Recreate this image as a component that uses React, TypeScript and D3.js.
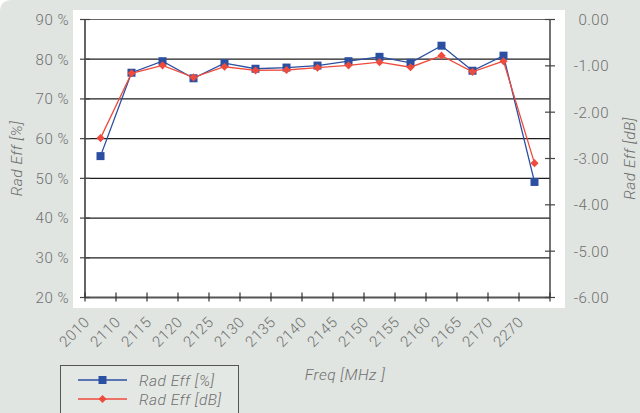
import React from 'react'
import * as d3 from 'd3'

const freqs = ['2010', '2110', '2115', '2120', '2125', '2130', '2135', '2140', '2145', '2150', '2155', '2160', '2165', '2170', '2270']
const effPct = [55.6, 76.6, 79.5, 75.2, 79.0, 77.6, 77.9, 78.4, 79.5, 80.6, 79.1, 83.4, 77.1, 80.9, 49.1]
const effDb = [-2.56, -1.16, -0.99, -1.25, -1.02, -1.10, -1.09, -1.04, -0.99, -0.92, -1.03, -0.78, -1.13, -0.90, -3.10]
const pctTicks = [20, 30, 40, 50, 60, 70, 80, 90]
const dbTicks = [0, -1, -2, -3, -4, -5, -6]

const W = 640
const H = 413
const left = 85
const right = 550
const top = 19.5
const bottom = 297.5

const font = 'Roboto, "Open Sans", sans-serif'
const textColor = '#6f6f6f'
const blue = '#2b4fa1'
const red = '#ef4b3c'

const App = () => {
    const x = d3.scaleBand().domain(freqs).range([left, right])
    const yL = d3.scaleLinear().domain([20, 90]).range([bottom, top])
    const yR = d3.scaleLinear().domain([-6, 0]).range([bottom, top])
    const cx = (f: string) => (x(f) ?? 0) + x.bandwidth() / 2

    const pctLine = d3.line<number>().x((_, i) => cx(freqs[i])).y(d => yL(d))
    const dbLine = d3.line<number>().x((_, i) => cx(freqs[i])).y(d => yR(d))
    const diamond = d3.symbol().type(d3.symbolDiamond2).size(42)()

    const tickText = { fontSize: 15, fontWeight: 300, fill: textColor, letterSpacing: 0.5 }
    const titleText = { fontSize: 15.5, fontWeight: 300, fill: textColor, fontStyle: 'italic', letterSpacing: 0.5 }

    return (
        <svg width={W} height={H} style={{ position: 'absolute', left: 0, top: 0 }} fontFamily={font}>
            <path d={`M0,12 Q0,0 12,0 H${W} V${H} H0 Z`} fill="#e0e5e1" />
            <rect x={73} y={10} width={492} height={298} fill="#ffffff" />

            {pctTicks.filter(t => t > 20 && t < 90).map(t => (
                <line key={t} x1={left} x2={right} y1={yL(t)} y2={yL(t)} stroke="#1e1e1e" strokeWidth={1.2} />
            ))}
            <line x1={left} x2={right} y1={yL(90)} y2={yL(90)} stroke="#666" strokeWidth={1.2} />

            {/* axes */}
            <line x1={left} x2={left} y1={top} y2={bottom} stroke="#555" strokeWidth={1.8} />
            <line x1={right} x2={right} y1={top} y2={bottom} stroke="#444" strokeWidth={1.5} />
            <line x1={left} x2={right} y1={bottom} y2={bottom} stroke="#555" strokeWidth={1.8} />
            {pctTicks.map(t => (
                <line key={t} x1={left - 5} x2={left + 5} y1={yL(t)} y2={yL(t)} stroke="#444" strokeWidth={1.2} />
            ))}
            {dbTicks.map(t => (
                <line key={t} x1={right - 5} x2={right + 5} y1={yR(t)} y2={yR(t)} stroke="#444" strokeWidth={1.2} />
            ))}
            {freqs.map(f => (
                <line key={f} x1={x(f)} x2={x(f)} y1={bottom - 5} y2={bottom + 4} stroke="#333" strokeWidth={1.2} />
            ))}
            <line x1={right} x2={right} y1={bottom - 5} y2={bottom + 4} stroke="#333" strokeWidth={1.2} />

            {/* tick labels */}
            {pctTicks.map(t => (
                <text key={t} x={69} y={yL(t)} dy="0.36em" textAnchor="end" {...tickText}>{`${t} %`}</text>
            ))}
            {dbTicks.map(t => (
                <text key={t} x={609} y={yR(t)} dy="0.36em" textAnchor="end" {...tickText}>{t.toFixed(2)}</text>
            ))}
            {freqs.map(f => (
                <text key={f} transform={`translate(${cx(f) - 10},${323}) rotate(-45)`} textAnchor="end" {...tickText}>{f}</text>
            ))}

            {/* axis titles */}
            <text transform={`translate(22,${(top + bottom) / 2}) rotate(-90)`} textAnchor="middle" {...titleText}>Rad Eff [%]</text>
            <text transform={`translate(635,${(top + bottom) / 2}) rotate(-90)`} textAnchor="middle" {...titleText}>Rad Eff [dB]</text>
            <text x={345} y={380} textAnchor="middle" {...titleText}>Freq [MHz ]</text>

            {/* series */}
            <path d={pctLine(effPct) ?? ''} fill="none" stroke={blue} strokeWidth={1.3} />
            {effPct.map((v, i) => (
                <rect key={i} x={cx(freqs[i]) - 4} y={yL(v) - 4} width={8} height={8} fill={blue} />
            ))}
            <path d={dbLine(effDb) ?? ''} fill="none" stroke={red} strokeWidth={1.3} />
            {effDb.map((v, i) => (
                <path key={i} d={diamond ?? ''} transform={`translate(${cx(freqs[i])},${yR(v)})`} fill={red} />
            ))}

            {/* legend */}
            <rect x={60.5} y={365.5} width={178} height={60} fill="#e4e8e5" stroke="#555" strokeWidth={1} />
            <line x1={78} x2={127} y1={380} y2={380} stroke={blue} strokeWidth={1.3} />
            <rect x={98.5} y={376} width={8} height={8} fill={blue} />
            <text x={139} y={380} dy="0.36em" {...titleText}>Rad Eff [%]</text>
            <line x1={78} x2={127} y1={399} y2={399} stroke={red} strokeWidth={1.3} />
            <path d={diamond ?? ''} transform={`translate(102.5,399)`} fill={red} />
            <text x={139} y={399} dy="0.36em" {...titleText}>Rad Eff [dB]</text>
        </svg>
    )
}

export default App
